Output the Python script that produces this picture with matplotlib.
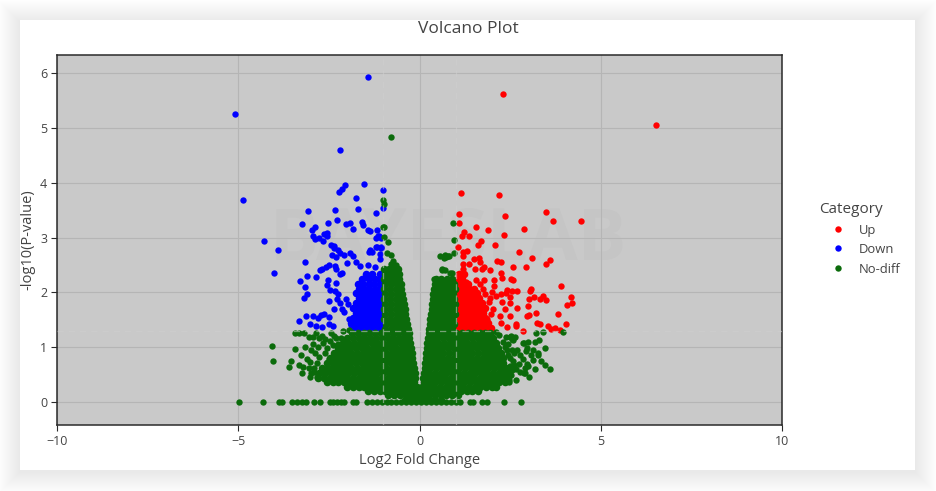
import matplotlib
matplotlib.use("Agg")
import matplotlib.pyplot as plt
from matplotlib.patches import Rectangle
from matplotlib.lines import Line2D

plt.rcParams['font.family'] = ['Open Sans', 'DejaVu Sans']

# ---- data (log2FC, -log10 p) ----
categories = ["Up", "Down", "No-diff"]
cat_colors = ["red", "blue", "#0b6b0b"]

# scattered "Up" genes
up_x = [2.30, 6.52, 1.14, 2.20, 1.10, 2.37, 3.48, 3.67, 4.46, 1.09, 1.55, 1.90, 2.88, 1.24, 1.16, 1.37,
        2.33, 1.69, 1.62, 2.08, 1.07, 1.20, 1.30, 2.74, 3.10, 3.59, 3.48, 1.21, 1.50, 1.65, 1.66, 2.13,
        2.26, 1.20, 1.36, 1.53, 1.79, 1.95, 2.57, 2.93, 1.20, 2.24, 2.52, 2.58, 2.27, 3.08, 3.06, 3.90,
        4.17, 4.21, 4.06, 3.81, 4.03, 3.62, 3.42, 3.50, 3.32, 3.15, 3.01, 3.00, 2.70, 2.49, 2.50, 2.69,
        2.41, 2.55, 2.38, 2.24, 2.05, 2.00, 2.11, 2.28, 2.35, 2.49, 2.67, 2.96, 3.02, 3.23, 3.33, 3.55,
        3.21, 2.42, 2.66, 2.25, 2.22, 2.04, 1.98, 1.85, 1.80, 1.91, 1.95, 1.82, 1.76, 1.68, 1.50, 1.35,
        1.29, 1.17, 1.56, 1.77, 1.73, 2.06, 3.73, 3.88, 2.85]
up_y = [5.62, 5.06, 3.82, 3.78, 3.43, 3.39, 3.47, 3.31, 3.30, 3.26, 3.19, 3.13, 3.16, 3.11, 3.03, 3.03,
        3.04, 2.93, 2.86, 2.86, 2.83, 2.74, 2.75, 2.73, 2.63, 2.59, 2.52, 2.66, 2.60, 2.63, 2.56, 2.57,
        2.56, 2.51, 2.51, 2.43, 2.46, 2.41, 2.47, 2.47, 2.42, 2.36, 2.25, 2.22, 2.27, 2.07, 2.02, 2.12,
        1.91, 1.80, 1.77, 1.60, 1.42, 1.33, 1.93, 1.86, 1.88, 1.92, 1.87, 1.75, 1.72, 1.81, 1.91, 2.03,
        2.04, 2.03, 1.99, 1.97, 2.11, 2.01, 1.93, 1.82, 1.70, 1.57, 1.42, 1.56, 1.58, 1.44, 1.42, 1.39,
        1.62, 1.37, 1.38, 1.44, 1.56, 1.69, 1.60, 1.51, 1.42, 1.83, 1.89, 1.97, 2.07, 2.15, 2.01, 2.13,
        2.19, 2.29, 2.22, 2.23, 2.43, 2.23, 1.35, 1.32, 1.30]

# dense "Up" block: (y, x values)
up_rows = [
    (1.35, [1.06, 1.21, 1.36, 1.51, 1.66, 1.81, 1.96]),
    (1.44, [1.08, 1.14, 1.29, 1.44, 1.59, 1.74, 1.90]),
    (1.53, [1.06, 1.21, 1.36, 1.51, 1.66, 1.81]),
    (1.62, [1.08, 1.14, 1.29, 1.44, 1.59, 1.74]),
    (1.71, [1.06, 1.21, 1.36, 1.51, 1.66, 1.80]),
    (1.80, [1.08, 1.14, 1.29, 1.44, 1.59, 1.72]),
    (1.89, [1.06, 1.21, 1.36, 1.51, 1.64]),
    (1.98, [1.08, 1.14, 1.29, 1.44, 1.58]),
    (2.07, [1.06, 1.21, 1.36, 1.50]),
    (2.16, [1.08, 1.20, 1.34]),
    (2.25, [1.06, 1.18]),
    (2.34, [1.08, 1.22]),
]

# scattered "Down" genes
down_x = [-5.09, -1.43, -2.20, -4.86, -2.06, -2.14, -2.21, -1.54, -1.01, -1.76, -1.01, -1.20, -1.70, -2.33,
          -3.07, -2.28, -2.03, -1.93, -1.59, -1.55, -1.83, -1.43, -1.36, -1.18, -2.53, -3.23, -2.97, -2.88,
          -2.94, -2.88, -2.76, -2.65, -2.56, -2.56, -1.15, -1.06, -1.19, -1.06, -2.36, -1.36, -4.28, -3.90,
          -4.01, -3.15, -3.30, -3.17, -3.10, -3.20, -3.10, -3.33, -3.13, -2.95, -3.02, -2.86, -2.81, -2.71,
          -2.64, -2.70, -2.50, -2.49, -2.40, -2.37, -2.51, -2.55, -2.53, -2.86, -2.75, -2.68, -2.58, -2.50,
          -2.34, -2.29, -2.18, -2.13, -2.31, -2.47, -2.34, -2.24, -2.28, -2.18, -2.15, -2.07, -1.97, -2.44,
          -2.36, -2.42, -2.30, -2.26, -2.19, -2.08, -1.99, -1.92, -1.84, -1.76, -1.64, -1.39, -1.31, -1.42,
          -1.24, -1.09, -1.09, -1.07, -1.17, -1.19, -1.12, -2.63, -1.90, -1.95, -2.02]
down_y = [5.26, 5.93, 4.59, 3.68, 3.95, 3.89, 3.83, 3.97, 3.87, 3.73, 3.54, 3.45, 3.52, 3.50,
          3.49, 3.32, 3.25, 3.27, 3.29, 3.22, 3.15, 3.13, 3.12, 3.14, 3.27, 3.24, 3.13, 3.19,
          3.02, 2.97, 2.99, 2.94, 3.09, 3.02, 3.02, 3.00, 2.82, 2.81, 2.85, 2.78, 2.93, 2.77,
          2.35, 2.55, 2.21, 2.09, 1.97, 1.89, 2.29, 1.47, 1.57, 1.57, 1.42, 1.39, 1.53, 1.59,
          1.60, 1.36, 1.42, 1.55, 1.38, 1.70, 1.85, 2.14, 2.23, 2.28, 2.40, 2.43, 2.47, 2.50,
          2.48, 2.42, 2.34, 2.36, 2.17, 2.04, 2.02, 1.97, 1.87, 1.81, 1.69, 1.64, 1.78, 2.86,
          2.80, 2.68, 2.64, 2.77, 2.72, 2.69, 2.54, 2.72, 2.66, 2.55, 2.48, 2.73, 2.74, 2.50,
          2.47, 2.60, 2.70, 2.82, 2.83, 3.00, 3.02, 3.06, 1.40, 1.52, 1.88]

# dense "Down" block
down_rows = [
    (1.35, [-1.08, -1.23, -1.38, -1.53, -1.68, -1.83]),
    (1.44, [-1.10, -1.16, -1.31, -1.46, -1.61, -1.76, -1.88]),
    (1.53, [-1.08, -1.23, -1.38, -1.53, -1.68, -1.83]),
    (1.62, [-1.10, -1.16, -1.31, -1.46, -1.61, -1.76]),
    (1.71, [-1.08, -1.23, -1.38, -1.53, -1.68, -1.83]),
    (1.80, [-1.10, -1.16, -1.31, -1.46, -1.61, -1.76]),
    (1.89, [-1.08, -1.23, -1.38, -1.53, -1.68]),
    (1.98, [-1.10, -1.16, -1.31, -1.46, -1.61, -1.76]),
    (2.07, [-1.08, -1.23, -1.38, -1.53, -1.68]),
    (2.16, [-1.10, -1.25, -1.40, -1.55, -1.70]),
    (2.25, [-1.08, -1.23, -1.38, -1.60]),
    (2.34, [-1.10, -1.30, -1.48]),
]

# scattered "No-diff" genes
nodiff_x = [-0.79, -1.00, -0.99, -0.99, -0.97, -0.86, -0.90, -0.78, -0.72, -0.80, -0.74, -0.65, -1.00,
            0.93, 0.96, 0.96, 0.73, 0.68, 0.78, 0.61, 0.70, 0.84, 0.57, 0.70, 0.82, 0.41, 0.62, 0.90,
            3.97, 2.50, 2.56, 2.87, 3.18, 3.45, 3.26, 3.12, 3.18, 3.61, 2.96, 2.87, 2.77, 2.46, 3.07,
            2.95, 2.77, 2.59, 2.51, 2.52, 3.27, 3.03, 2.91, 2.66, 2.48, 3.29, 3.41, 2.59, 2.64, 2.52,
            2.85, 3.00, 2.97, 2.61, 2.41, 2.50, 2.60, 2.12, 2.20, 2.30, 2.35,
            2.45, 2.55, 2.70, 2.65, 2.75, 2.85, 2.90, 3.00, 2.38, 2.45, 2.55, 3.35, 3.45, 3.12, 3.20,
            -4.08, -4.03, -3.61, -3.55, -3.43, -3.44, -3.32, -3.20, -3.33, -3.21, -3.25, -3.27, -3.11,
            -3.02, -2.95, -3.06, -2.95, -2.86, -2.77, -2.70, -2.89, -2.76, -2.84, -2.99, -3.01, -2.92,
            -2.84, -2.65, -2.56, -2.47, -2.38, -2.29, -2.16, -2.10, -1.94, -2.02, -1.93, -2.16,
            -2.60, -2.50, -2.40, -2.55, -2.35, -2.45, -2.25, -2.62, -2.90, -3.00, -3.15, -2.80, -2.70, -3.05,
            -4.97, -4.33, -3.87, -3.80, -3.52, -3.39, -3.25, -3.14, -2.91, -2.74, -2.47, -2.38, -2.27,
            -2.17, -2.08, -1.84, -1.75, -1.46, -1.32, -1.18, -1.04, -0.90, -0.79, -0.66, -0.52, -0.38,
            -0.24, -0.10, 0.04, 0.18, 0.32, 0.46, 0.60, 0.74, 0.88, 1.00, 1.12, 1.39, 1.48, 1.72,
            1.85, 2.34, 2.80]
nodiff_y = [4.84, 3.69, 3.62, 3.19, 3.01, 2.91, 2.72, 2.68, 2.58, 2.52, 2.48, 2.50, 3.20,
            3.26, 2.96, 2.71, 2.64, 2.62, 2.66, 2.41, 2.41, 2.35, 2.66, 2.68, 2.66, 2.24, 2.42, 2.35,
            1.28, 1.19, 1.14, 1.08, 1.10, 0.98, 0.89, 0.77, 0.61, 0.61, 0.69, 0.52, 0.55, 0.40, 0.85,
            0.93, 0.86, 0.75, 0.66, 0.50, 0.86, 0.46, 0.52, 0.40, 0.37, 1.13, 1.28, 1.13, 1.18, 1.20,
            1.07, 1.10, 0.98, 0.90, 0.95, 0.80, 0.68, 1.27, 1.22, 1.10, 1.00,
            1.05, 0.95, 0.95, 0.60, 0.70, 0.78, 0.62, 0.65, 1.18, 0.85, 0.58, 0.75, 0.68, 0.95, 1.25,
            1.02, 0.74, 0.63, 0.74, 0.96, 1.25, 1.25, 1.25, 0.68, 0.63, 0.53, 0.86, 0.78,
            0.73, 1.05, 1.19, 1.19, 1.25, 1.17, 1.21, 0.89, 0.82, 0.71, 0.52, 0.46, 0.55,
            0.46, 1.07, 0.98, 1.12, 1.04, 1.16, 1.16, 1.30, 1.32, 1.13, 1.01, 0.98,
            0.90, 0.78, 0.66, 0.60, 1.20, 1.25, 1.05, 1.15, 0.62, 0.95, 1.00, 1.00, 0.55, 0.62,
            0.0, 0.0, 0.0, 0.0, 0.0, 0.0, 0.0, 0.0, 0.0, 0.0, 0.0, 0.0, 0.0,
            0.0, 0.0, 0.0, 0.0, 0.0, 0.0, 0.0, 0.0, 0.0, 0.0, 0.0, 0.0, 0.0,
            0.0, 0.0, 0.0, 0.0, 0.0, 0.0, 0.0, 0.0, 0.0, 0.0, 0.0, 0.0, 0.0, 0.0,
            0.0, 0.0, 0.0]

# dense "No-diff" cloud (the two lobes of the volcano)
nodiff_rows = [
    (0.04, [-0.40, -0.26, -0.12, 0.02, 0.16, 0.30, 0.44, 0.58]),
    (0.12, [-0.86, -0.70, -0.54, -0.38, -0.22, -0.06, 0.10, 0.26, 0.42, 0.58, 0.74, 0.90, 1.06]),
    (0.20, [-1.42, -1.26, -1.10, -0.94, -0.78, -0.62, -0.46, -0.30, -0.14, 0.02, 0.18, 0.34, 0.50,
            0.66, 0.82, 0.98, 1.14, 1.30, 1.46, 1.60]),
    (0.28, [-2.00, -1.84, -1.68, -1.52, -1.36, -1.20, -1.04, -0.88, -0.72, -0.56, -0.40, -0.24, -0.08,
            0.08, 0.24, 0.40, 0.56, 0.72, 0.88, 1.04, 1.20, 1.36, 1.52, 1.68, 1.84, 2.00, 2.12]),
    (0.36, [-2.56, -2.40, -2.24, -2.08, -1.92, -1.76, -1.60, -1.44, -1.28, -1.12, -0.96, -0.80, -0.64,
            -0.48, -0.32, -0.16, 0.12, 0.28, 0.44, 0.60, 0.76, 0.92, 1.08, 1.24, 1.40, 1.56, 1.72,
            1.88, 2.04, 2.20, 2.36]),
    (0.44, [-2.80, -2.64, -2.48, -2.32, -2.16, -2.00, -1.84, -1.68, -1.52, -1.36, -1.20, -1.04, -0.88,
            -0.72, -0.56, -0.40, -0.25, -0.12, 0.10, 0.22, 0.38, 0.54, 0.70, 0.86, 1.02, 1.18, 1.34,
            1.50, 1.66, 1.82, 1.98, 2.14, 2.30, 2.44]),
    (0.53, [-2.76, -2.60, -2.44, -2.28, -2.12, -1.96, -1.80, -1.64, -1.48, -1.32, -1.16, -1.00, -0.84,
            -0.68, -0.52, -0.36, -0.20, -0.13, 0.12, 0.26, 0.42, 0.58, 0.74, 0.90, 1.06, 1.22, 1.38,
            1.54, 1.70, 1.86, 2.02, 2.18, 2.34, 2.44]),
    (0.62, [-2.68, -2.52, -2.36, -2.20, -2.04, -1.88, -1.72, -1.56, -1.40, -1.24, -1.08, -0.92, -0.76,
            -0.60, -0.44, -0.28, -0.16, 0.14, 0.30, 0.46, 0.62, 0.78, 0.94, 1.10, 1.26, 1.42, 1.58,
            1.74, 1.90, 2.06, 2.22, 2.38]),
    (0.71, [-2.56, -2.40, -2.24, -2.08, -1.92, -1.76, -1.60, -1.44, -1.28, -1.12, -0.96, -0.80, -0.64,
            -0.48, -0.32, -0.18, 0.16, 0.24, 0.38, 0.54, 0.70, 0.86, 1.02, 1.18, 1.34, 1.50, 1.66,
            1.82, 1.98, 2.14, 2.30]),
    (0.80, [-2.46, -2.30, -2.14, -1.98, -1.82, -1.66, -1.50, -1.34, -1.18, -1.02, -0.86, -0.70, -0.54,
            -0.38, -0.20, 0.17, 0.30, 0.46, 0.62, 0.78, 0.94, 1.10, 1.26, 1.42, 1.58, 1.74, 1.90,
            2.06, 2.22, 2.30]),
    (0.89, [-2.36, -2.20, -2.04, -1.88, -1.72, -1.56, -1.40, -1.24, -1.08, -0.92, -0.76, -0.60, -0.44,
            -0.30, -0.22, 0.19, 0.34, 0.50, 0.66, 0.82, 0.98, 1.14, 1.30, 1.46, 1.62, 1.78, 1.94,
            2.10, 2.24]),
    (0.98, [-2.24, -2.08, -1.92, -1.76, -1.60, -1.44, -1.28, -1.12, -0.96, -0.80, -0.64, -0.48, -0.34,
            -0.24, 0.21, 0.30, 0.46, 0.62, 0.78, 0.94, 1.10, 1.26, 1.42, 1.58, 1.74, 1.90, 2.06, 2.16]),
    (1.07, [-2.12, -1.96, -1.80, -1.64, -1.48, -1.32, -1.16, -1.00, -0.84, -0.68, -0.52, -0.38, -0.26,
            0.22, 0.36, 0.52, 0.68, 0.84, 1.00, 1.16, 1.32, 1.48, 1.64, 1.80, 1.96, 2.10]),
    (1.16, [-2.00, -1.84, -1.68, -1.52, -1.36, -1.20, -1.04, -0.88, -0.72, -0.56, -0.42, -0.28,
            0.24, 0.32, 0.48, 0.64, 0.80, 0.96, 1.12, 1.28, 1.44, 1.60, 1.76, 1.92, 2.02]),
    (1.25, [-1.86, -1.70, -1.54, -1.38, -1.22, -1.06, -0.90, -0.74, -0.58, -0.44, -0.30,
            0.25, 0.38, 0.54, 0.70, 0.86, 1.02, 1.18, 1.34, 1.50, 1.66, 1.82, 1.94]),
    (1.34, [-0.96, -0.80, -0.64, -0.48, -0.32, 0.27, 0.42, 0.58, 0.74, 0.90]),
    (1.43, [-0.92, -0.76, -0.60, -0.46, -0.34, 0.29, 0.36, 0.50, 0.66, 0.82, 0.96]),
    (1.52, [-0.98, -0.82, -0.66, -0.50, -0.37, 0.30, 0.44, 0.60, 0.76, 0.92]),
    (1.61, [-0.94, -0.78, -0.62, -0.48, -0.39, 0.32, 0.38, 0.52, 0.68, 0.84, 0.97]),
    (1.70, [-0.98, -0.82, -0.66, -0.52, -0.41, 0.34, 0.46, 0.62, 0.78, 0.94]),
    (1.79, [-0.94, -0.78, -0.62, -0.50, -0.43, 0.35, 0.42, 0.56, 0.72, 0.88, 0.97]),
    (1.88, [-0.98, -0.82, -0.66, -0.52, -0.45, 0.37, 0.50, 0.66, 0.82, 0.96]),
    (1.97, [-0.94, -0.78, -0.62, -0.48, 0.38, 0.46, 0.60, 0.76, 0.92]),
    (2.06, [-0.98, -0.82, -0.66, -0.50, 0.40, 0.54, 0.70, 0.86, 0.97]),
    (2.15, [-0.94, -0.78, -0.62, -0.52, 0.42, 0.50, 0.64, 0.80, 0.95]),
    (2.24, [-0.98, -0.84, -0.70, -0.56, 0.46, 0.60, 0.75, 0.90]),
    (2.33, [-0.95, -0.80, -0.66, -0.56]),
    (2.42, [-0.97, -0.83, -0.70, -0.58]),
]

fc_cut = 1.0
p_cut = 1.301

x_ticks = [-10, -5, 0, 5, 10]
y_ticks = [0, 1, 2, 3, 4, 5, 6]


def row_points(rows):
    xs, ys = [], []
    for yv, row in rows:
        xs += row
        ys += [yv] * len(row)
    return xs, ys


W, H = 936, 491
fig = plt.figure(figsize=(W / 100, H / 100), dpi=100)
fig.patch.set_facecolor('white')

# card with a soft shadow
for i in range(22, 0, -1):
    fig.add_artist(Rectangle(((20 - i) / W, 1 - (472 + i) / H), (895 + 2 * i) / W, (450 + 2 * i) / H,
                             transform=fig.transFigure, facecolor='black', edgecolor='none',
                             alpha=0.0025, zorder=0))
fig.add_artist(Rectangle((20 / W, 1 - 470 / H), 895 / W, 450 / H, transform=fig.transFigure,
                         facecolor='white', edgecolor='none', zorder=0))

ax = fig.add_axes([57 / W, 1 - 425 / H, 725 / W, 370 / H])
ax.set_zorder(1)
ax.set_facecolor('#c9c9c9')

# faint watermark
ax.text(0.54, 0.50, "BAYESLAB", transform=ax.transAxes, ha='center', va='center',
        fontsize=52, fontweight='bold', color='#c5c5c5', zorder=0.5)

scattered = [(up_x, up_y), (down_x, down_y), (nodiff_x, nodiff_y)]
dense = [up_rows, down_rows, nodiff_rows]
for (xs, ys), rows, col in zip(scattered, dense, cat_colors):
    rx, ry = row_points(rows)
    ax.scatter(rx, ry, s=30, color=col, linewidths=0, zorder=2)
    ax.scatter(xs, ys, s=21, color=col, linewidths=0, zorder=2)

# threshold lines
for xv in (-fc_cut, fc_cut):
    ax.axvline(xv, color='#d0d0d0', lw=0.9, ls=(0, (5, 4)), alpha=0.55, zorder=3)
ax.axhline(p_cut, color='#d0d0d0', lw=0.9, ls=(0, (5, 4)), alpha=0.55, zorder=3)

ax.set_xlim(-10, 10)
ax.set_ylim(-0.42, 6.33)
ax.set_xticks(x_ticks)
ax.set_xticklabels(["\u221210", "\u22125", "0", "5", "10"])
ax.set_yticks(y_ticks)
ax.grid(True, color='#b5b5b5', lw=0.8)
ax.set_axisbelow(True)
for sp in ax.spines.values():
    sp.set_color('#2a2a2a')
    sp.set_linewidth(1.1)
ax.tick_params(colors='#2a2a2a', labelcolor='#444444', labelsize=9, length=4, width=0.8, pad=3)

ax.set_xlabel("Log2 Fold Change", fontsize=10.5, color='#444444', labelpad=4)
ax.set_ylabel("-log10(P-value)", fontsize=10.5, color='#444444', labelpad=3)

fig.text(0.5, 1 - 29 / H, "Volcano Plot", ha='center', va='center', fontsize=12.5, color='#444444')

handles = [Line2D([], [], ls='', marker='o', markersize=4.6, markeredgewidth=0, color=c)
           for c in cat_colors]
leg = fig.legend(handles, categories, title="Category", loc='upper left',
                 bbox_to_anchor=(819 / W, 1 - 202 / H), frameon=False, fontsize=9.4,
                 title_fontsize=11, handlelength=2.9, handletextpad=0.15, labelspacing=0.5,
                 borderpad=0, borderaxespad=0)
leg._legend_box.align = "left"
for t in leg.get_texts():
    t.set_color('#444444')
leg.get_title().set_color('#444444')

fig.savefig('out.png', dpi=100)
